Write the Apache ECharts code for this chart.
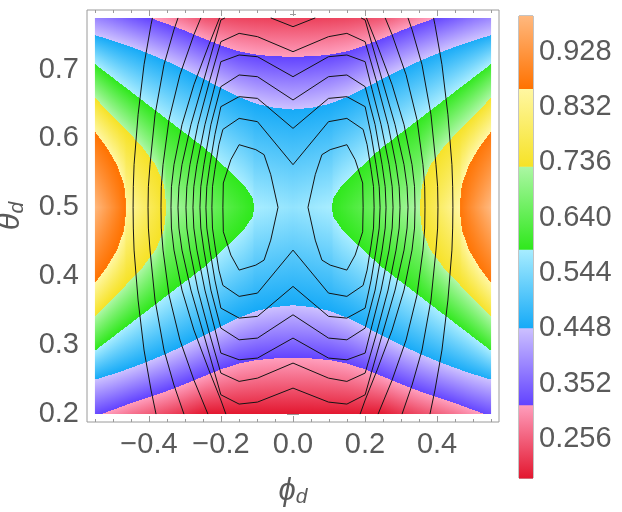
<!DOCTYPE html>
<html>
<head>
<meta charset="utf-8">
<script src="https://cdn.jsdelivr.net/npm/echarts@6/dist/echarts.min.js"></script>
<style>
  html, body { margin: 0; padding: 0; background: #fff; }
  #chart { width: 622px; height: 512px; }
</style>
</head>
<body>
<div id="chart"></div>
<script>
// plotted domain
const phiRange = [-0.55, 0.55];
const thetaRange = [0.2, 0.775];

// colour band edges (contour levels) and colour bar tick labels
const levels = [0.188, 0.315, 0.449, 0.585, 0.729, 0.864, 0.990];
const barTicks = [0.256, 0.352, 0.448, 0.544, 0.640, 0.736, 0.832, 0.928];
// [low end, high end] colour of each band
const bandColors = [
  ['#e3172f', '#ff9ebd'],
  ['#6243ff', '#cdc1ff'],
  ['#16aaf7', '#a8edff'],
  ['#2fe81c', '#acf7a4'],
  ['#f6e226', '#fff7a2'],
  ['#ff7200', '#ffb87e']
];

// band edges in the lower-left quarter (phi <= 0, theta <= 0.5), [phi, theta]
const edgeRedPurple = [[-0.55, 0.197], [-0.50, 0.206], [-0.45, 0.216], [-0.40, 0.2245], [-0.35, 0.2335],
  [-0.30, 0.2435], [-0.25, 0.2545], [-0.20, 0.265], [-0.15, 0.2735], [-0.10, 0.2785], [-0.05, 0.2808], [0, 0.2813]];
const edgePurpleBlue = [[-0.55, 0.250], [-0.50, 0.258], [-0.45, 0.267], [-0.40, 0.277], [-0.35, 0.288],
  [-0.30, 0.300], [-0.25, 0.313], [-0.20, 0.327], [-0.15, 0.340], [-0.10, 0.350], [-0.05, 0.3555], [0, 0.358]];
const edgeBlueGreen = [[-0.55, 0.292], [-0.394, 0.3544], [-0.2418, 0.4154], [-0.2003, 0.436],
  [-0.1643, 0.4531], [-0.1366, 0.4676], [-0.1116, 0.4865], [-0.108, 0.5]];
const edgeGreenYellow = [[-0.55, 0.341], [-0.4227, 0.4095], [-0.3812, 0.4385], [-0.3582, 0.4675], [-0.3518, 0.5]];
const edgeYellowOrange = [[-0.55, 0.390], [-0.5161, 0.4139], [-0.4884, 0.4386], [-0.469, 0.4675], [-0.4626, 0.5]];
// value along theta = 0.5
const centreValues = [[-0.55, 0.99], [-0.4626, 0.864], [-0.3518, 0.729], [-0.108, 0.585], [0, 0.565]];

// black contour lines, lower-left quarter, starting on theta = 0.5
const contourLines = [
  [[-0.444, 0.5], [-0.4434, 0.47], [-0.4413, 0.438], [-0.4302, 0.3655], [-0.4136, 0.2929], [-0.3942, 0.2348], [-0.3803, 0.2]],
  [[-0.4025, 0.5], [-0.4016, 0.47], [-0.397, 0.438], [-0.3831, 0.3655], [-0.3582, 0.2929], [-0.3305, 0.242], [-0.3028, 0.2]],
  [[-0.3665, 0.5], [-0.3657, 0.47], [-0.3609, 0.438], [-0.3443, 0.3727], [-0.3139, 0.3074], [-0.2751, 0.2493], [-0.2363, 0.2]],
  [[-0.3388, 0.5], [-0.3375, 0.47], [-0.3305, 0.438], [-0.3083, 0.38], [-0.2751, 0.3219], [-0.2335, 0.2638], [-0.2003, 0.2203], [-0.1864, 0.2]],
  [[-0.3194, 0.5], [-0.3168, 0.47], [-0.3083, 0.438], [-0.2834, 0.38], [-0.2474, 0.3147], [-0.2197, 0.2638], [-0.2003, 0.228],
    [-0.1496, 0.2145], [-0.0986, 0.2174], [0, 0.2377]],
  [[-0.2972, 0.5], [-0.2948, 0.47], [-0.2861, 0.438], [-0.264, 0.38], [-0.2307, 0.3147], [-0.2003, 0.2595], [-0.1496, 0.2474],
    [-0.0986, 0.2522], [0, 0.274]],
  [[-0.2778, 0.5], [-0.2754, 0.47], [-0.2668, 0.438], [-0.2446, 0.38], [-0.2197, 0.3292], [-0.2003, 0.2885], [-0.1496, 0.2788],
    [-0.0986, 0.2813], [0, 0.3103]],
  [[-0.2584, 0.5], [-0.256, 0.47], [-0.2474, 0.438], [-0.228, 0.38], [-0.2003, 0.3248], [-0.1496, 0.3078], [-0.0986, 0.3103], [0, 0.3441]],
  [[-0.2418, 0.5], [-0.2394, 0.47], [-0.2307, 0.438], [-0.2169, 0.3945], [-0.2003, 0.3538], [-0.1496, 0.3393], [-0.0986, 0.3418], [0, 0.3853]],
  [[-0.2252, 0.5], [-0.2236, 0.47], [-0.2169, 0.4453], [-0.2058, 0.409], [-0.1947, 0.3868], [-0.1496, 0.3708], [-0.0986, 0.3756], [0, 0.438]]
];
// small loop round the left minimum, lower half
const innerLoop = [[-0.1947, 0.5], [-0.1935, 0.4646], [-0.1726, 0.4308], [-0.1496, 0.409], [-0.1033, 0.4162],
  [-0.0803, 0.4235], [-0.0618, 0.4525], [-0.0416, 0.5]];

const xMajor = [-0.4, -0.2, 0, 0.2, 0.4];
const xMinor = [-0.55, -0.5, -0.45, -0.35, -0.3, -0.25, -0.15, -0.1, -0.05, 0.05, 0.1, 0.15, 0.25, 0.3, 0.35, 0.45, 0.5, 0.55];
const yMajor = [0.2, 0.3, 0.4, 0.5, 0.6, 0.7];
const yMinor = [0.22, 0.24, 0.26, 0.28, 0.32, 0.34, 0.36, 0.38, 0.42, 0.44, 0.46, 0.48,
  0.52, 0.54, 0.56, 0.58, 0.62, 0.64, 0.66, 0.68, 0.72, 0.74, 0.76, 0.78];

const gray = '#5a5a5a';
const frameGray = '#9a9a9a';
const font = 'Liberation Sans, Arial, sans-serif';

function hexRgb(h) { return [1, 3, 5].map((i) => parseInt(h.substr(i, 2), 16)); }
function mix(c0, c1, t) {
  const a = hexRgb(c0); const b = hexRgb(c1);
  return 'rgb(' + a.map((v, i) => Math.round(v + (b[i] - v) * t)).join(',') + ')';
}
function bandOf(v) { let k = 0; while (k < 5 && v >= levels[k + 1]) k++; return k; }
function colorIn(v, k) {
  const t = Math.min(1, Math.max(0, (v - levels[k]) / (levels[k + 1] - levels[k])));
  return mix(bandColors[k][0], bandColors[k][1], t);
}
// theta of a curve at phi (curve sorted by phi), null outside it
function at(curve, p) {
  const n = curve.length;
  if (p < curve[0][0] - 1e-9 || p > curve[n - 1][0] + 1e-9) return null;
  for (let i = 1; i < n; i++) {
    if (p <= curve[i][0]) {
      const [p0, t0] = curve[i - 1]; const [p1, t1] = curve[i];
      return p1 === p0 ? t1 : t0 + (t1 - t0) * (p - p0) / (p1 - p0);
    }
  }
  return curve[n - 1][1];
}

// value profile down one column, from the band edges it crosses
function columnKnots(phi) {
  const p = Math.max(phiRange[0], -Math.abs(phi));
  const L = levels;
  const b1 = at(edgeRedPurple, p); const b2 = at(edgePurpleBlue, p);
  const t0 = thetaRange[0];
  let v0;
  if (b1 >= t0) v0 = Math.max(L[0], L[1] - (L[2] - L[1]) * (b1 - t0) / (b2 - b1));
  else v0 = L[1] + (L[2] - L[1]) * (t0 - b1) / (b2 - b1);
  const low = [[t0, v0]];
  if (b1 > t0) low.push([b1, L[1]]);
  low.push([b2, L[2]]);
  [[edgeBlueGreen, 3], [edgeGreenYellow, 4], [edgeYellowOrange, 5]].forEach(([c, k]) => {
    const t = at(c, p);
    if (t !== null && t < 0.5) low.push([t, L[k]]);
  });
  low.push([0.5, at(centreValues, p)]);
  const knots = low.slice();
  for (let i = low.length - 2; i >= 0; i--) knots.push([1 - low[i][0], low[i][1]]);
  const top = thetaRange[1];
  const out = [];
  for (let i = 0; i < knots.length; i++) {
    if (knots[i][0] <= top) out.push(knots[i]);
    else {
      const [ta, va] = knots[i - 1]; const [tb, vb] = knots[i];
      out.push([top, va + (vb - va) * (top - ta) / (tb - ta)]);
      break;
    }
  }
  return out;
}

function columnGradient(knots) {
  const span = thetaRange[1] - thetaRange[0];
  const stops = [];
  for (let i = knots.length - 1; i > 0; i--) {
    const [ta, va] = knots[i]; const [tb, vb] = knots[i - 1];
    const k = bandOf((va + vb) / 2);
    stops.push({ offset: (thetaRange[1] - ta) / span, color: colorIn(va, k) });
    stops.push({ offset: (thetaRange[1] - tb) / span, color: colorIn(vb, k) });
  }
  return new echarts.graphic.LinearGradient(0, 0, 0, 1, stops);
}

function loopFromQuarter(q) {
  const lr = q.slice().reverse().map(([p, t]) => [-p, t]);
  const ur = q.map(([p, t]) => [-p, 1 - t]);
  const ul = q.slice().reverse().map(([p, t]) => [p, 1 - t]);
  return q.concat(lr.slice(1), ur.slice(1), ul.slice(1));
}
function sideFromQuarter(q, sign) {
  const up = q.slice().reverse().map(([p, t]) => [sign * p, 1 - t]);
  const down = q.map(([p, t]) => [sign * p, t]);
  return up.concat(down.slice(1));
}
function smallLoop(q, sign) {
  const upper = q.slice().reverse().slice(1).map(([p, t]) => [sign * p, 1 - t]);
  return q.map(([p, t]) => [sign * p, t]).concat(upper);
}
// cut a path where it leaves the plotted domain at the top
function clipTop(path, top) {
  const pieces = [];
  let cur = [];
  for (let i = 0; i < path.length; i++) {
    const pt = path[i];
    if (i > 0) {
      const pr = path[i - 1];
      const inA = pr[1] <= top; const inB = pt[1] <= top;
      if (inA !== inB) {
        const s = (top - pr[1]) / (pt[1] - pr[1]);
        const cut = [pr[0] + s * (pt[0] - pr[0]), top];
        if (inA) { cur.push(cut); pieces.push(cur); cur = []; } else { cur = [cut]; }
      }
    }
    if (pt[1] <= top) cur.push(pt);
  }
  if (cur.length > 1) pieces.push(cur);
  return pieces;
}

const paths = [];
contourLines.forEach((q) => {
  if (q[q.length - 1][0] === 0) paths.push(loopFromQuarter(q));
  else { paths.push(sideFromQuarter(q, 1)); paths.push(sideFromQuarter(q, -1)); }
});
paths.push(smallLoop(innerLoop, 1));
paths.push(smallLoop(innerLoop, -1));

const lineSeries = [];
paths.forEach((d) => {
  clipTop(d, thetaRange[1]).forEach((piece) => {
    lineSeries.push({
      type: 'line',
      xAxisIndex: 0,
      yAxisIndex: 0,
      data: piece,
      symbol: 'none',
      silent: true,
      z: 5,
      lineStyle: { color: '#141414', width: 1 }
    });
  });
});

const xFmt = (v) => (Math.abs(v) < 1e-9 ? '0.0' : (v < 0 ? '\u2212' : '') + Math.abs(v).toFixed(1));
const yFmt = (v) => v.toFixed(1);

function tickAxis(pos, values, len, fmt, extra) {
  return Object.assign({
    type: 'value',
    gridIndex: 0,
    position: pos,
    axisLine: { show: false },
    splitLine: { show: false },
    axisTick: { show: true, inside: true, length: len, customValues: values, lineStyle: { color: frameGray } },
    axisLabel: fmt
      ? { show: true, customValues: values, formatter: fmt, fontSize: 29, fontFamily: font, color: gray, margin: 8 }
      : { show: false }
  }, extra);
}

// frame = domain plus 2% padding on each side
const xRange = { min: -0.572, max: 0.572 };
const yRange = { min: 0.1885, max: 0.7865 };

const option = {
  animation: false,
  backgroundColor: '#fff',
  grid: [
    { left: 87, right: 123, top: 10, bottom: 90, show: true, borderColor: frameGray, borderWidth: 1, backgroundColor: 'transparent', outerBoundsMode: 'none' },
    { left: 519, right: 89, top: 16, bottom: 34, show: true, borderColor: '#888', borderWidth: 1, backgroundColor: 'transparent', outerBoundsMode: 'none' }
  ],
  xAxis: [
    tickAxis('bottom', xMajor, 6, xFmt, Object.assign({
      name: '{a|\u03d5}{b|d}',
      nameLocation: 'middle',
      nameGap: 52,
      nameTextStyle: {
        rich: {
          a: { fontSize: 31, fontStyle: 'italic', fontFamily: font, color: gray, lineHeight: 34 },
          b: { fontSize: 21, fontStyle: 'italic', fontFamily: font, color: gray, lineHeight: 22, verticalAlign: 'bottom' }
        }
      }
    }, xRange)),
    tickAxis('bottom', xMinor, 3, null, xRange),
    tickAxis('top', xMajor, 6, null, xRange),
    tickAxis('top', xMinor, 3, null, xRange),
    { type: 'value', gridIndex: 1, min: 0, max: 1, show: false }
  ],
  yAxis: [
    tickAxis('left', yMajor, 6, yFmt, Object.assign({
      name: '{a|\u03b8}{b|d}',
      nameLocation: 'middle',
      nameRotate: 90,
      nameGap: 56,
      nameTextStyle: {
        rich: {
          a: { fontSize: 31, fontStyle: 'italic', fontFamily: font, color: gray, lineHeight: 34 },
          b: { fontSize: 21, fontStyle: 'italic', fontFamily: font, color: gray, lineHeight: 22, verticalAlign: 'bottom' }
        }
      }
    }, yRange)),
    tickAxis('left', yMinor, 3, null, yRange),
    tickAxis('right', yMajor, 6, null, yRange),
    tickAxis('right', yMinor, 3, null, yRange),
    {
      type: 'value',
      gridIndex: 1,
      position: 'right',
      min: levels[0],
      max: levels[levels.length - 1],
      axisLine: { show: false },
      splitLine: { show: false },
      axisTick: { show: true, inside: false, length: 4, customValues: barTicks, lineStyle: { color: '#888' } },
      axisLabel: {
        show: true,
        customValues: barTicks,
        formatter: (v) => v.toFixed(3),
        fontSize: 29,
        fontFamily: font,
        color: gray,
        margin: 6
      }
    }
  ],
  series: [
    {
      type: 'custom',
      xAxisIndex: 0,
      yAxisIndex: 0,
      silent: true,
      z: 1,
      data: [[0, 0.5]],
      renderItem: function (params, api) {
        const n = 396;
        const children = [];
        const yTop = api.coord([0, thetaRange[1]])[1];
        const yBot = api.coord([0, thetaRange[0]])[1];
        for (let i = 0; i < n; i++) {
          const p0 = phiRange[0] + (phiRange[1] - phiRange[0]) * i / n;
          const p1 = phiRange[0] + (phiRange[1] - phiRange[0]) * (i + 1) / n;
          const x0 = api.coord([p0, 0.5])[0];
          const x1 = api.coord([p1, 0.5])[0];
          children.push({
            type: 'rect',
            shape: { x: x0, y: yTop, width: x1 - x0 + (i < n - 1 ? 0.6 : 0), height: yBot - yTop },
            style: { fill: columnGradient(columnKnots((p0 + p1) / 2)) }
          });
        }
        return { type: 'group', children: children };
      }
    },
    {
      type: 'custom',
      xAxisIndex: 4,
      yAxisIndex: 4,
      silent: true,
      z: 1,
      data: [[0, 0.5]],
      renderItem: function (params, api) {
        const children = [];
        for (let k = 0; k < bandColors.length; k++) {
          const a = api.coord([0, levels[k + 1]]);
          const b = api.coord([1, levels[k]]);
          children.push({
            type: 'rect',
            shape: { x: a[0], y: a[1], width: b[0] - a[0], height: b[1] - a[1] + 0.5 },
            style: {
              fill: new echarts.graphic.LinearGradient(0, 1, 0, 0, [
                { offset: 0, color: bandColors[k][0] },
                { offset: 1, color: bandColors[k][1] }
              ])
            }
          });
        }
        return { type: 'group', children: children };
      }
    }
  ].concat(lineSeries)
};

const myChart = echarts.init(document.getElementById('chart'));
myChart.setOption(option);
window.addEventListener('resize', () => {
  myChart.resize();
});
</script>
</body>
</html>
